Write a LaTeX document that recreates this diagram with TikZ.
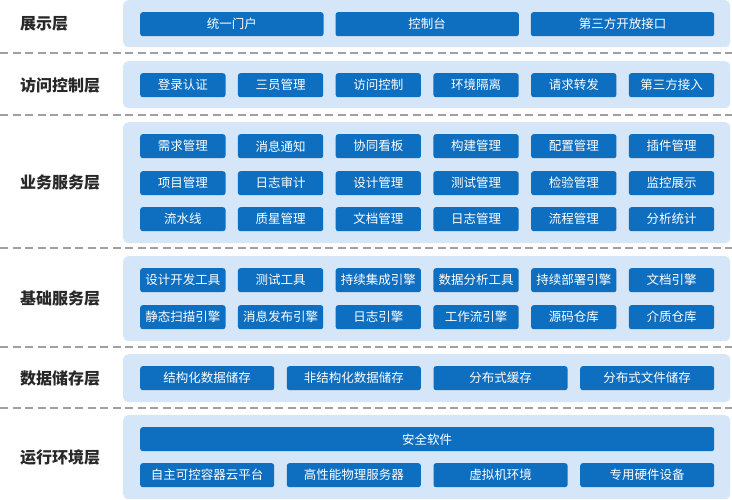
\documentclass[tikz,border=0pt]{standalone}
\usepackage{fontspec}
\setmainfont{Noto Sans CJK SC}
\definecolor{panelc}{RGB}{212,230,248}
\definecolor{boxc}{RGB}{14,110,192}
\definecolor{sepc}{RGB}{160,160,160}
\definecolor{labc}{RGB}{40,40,40}
\tikzset{
  panel/.style={fill=panelc, rounded corners=5pt, inner sep=0pt, anchor=north west, minimum width=607pt},
  blk/.style={fill=boxc, rounded corners=2.5pt, text=white, font=\fontsize{12.5}{14}\selectfont, inner sep=0pt, anchor=north west, minimum height=24pt},
  lbl/.style={font=\bfseries\fontsize{16}{18}\selectfont, anchor=west, text=labc, inner sep=0pt},
  sepline/.style={draw=sepc, line width=1.4pt, dash pattern=on 8pt off 4.5pt}
}
\newcommand\sixrow[2]{%
  \foreach \t [count=\i from 0] in {#2} {\node[blk, minimum width=85.3pt] (b#1-\i) at (140+\i*97.74,#1) {\t};}}
\newcommand\fourrow[2]{%
  \foreach \t [count=\i from 0] in {#2} {\node[blk, minimum width=134pt] (b#1-\i) at (140+\i*146.67,#1) {\t};}}
\newcommand\threerow[2]{%
  \foreach \t [count=\i from 0] in {#2} {\node[blk, minimum width=183.3pt] (b#1-\i) at (140+\i*195.35,#1) {\t};}}
\begin{document}
\begin{tikzpicture}[x=1pt,y=-1pt]
\useasboundingbox (0,0) rectangle (732,500);
% panels
\node[panel, minimum height=47pt] (p1) at (123,0) {};
\node[panel, minimum height=47pt] (p2) at (123,61) {};
\node[panel, minimum height=121pt] (p3) at (123,122) {};
\node[panel, minimum height=85pt] (p4) at (123,256) {};
\node[panel, minimum height=48pt] (p5) at (123,354) {};
\node[panel, minimum height=84pt] (p6) at (123,415) {};
% separators
\foreach \y [count=\k] in {53,115,248,347,408} {
  \coordinate (sl\k) at (0,\y);
  \coordinate (sr\k) at (732,\y);
  \draw[sepline] (sl\k) -- (sr\k);
}
% labels
\node[lbl] (l1) at (20,24) {展示层};
\node[lbl] (l2) at (20,85) {访问控制层};
\node[lbl] (l3) at (20,183) {业务服务层};
\node[lbl] (l4) at (20,299) {基础服务层};
\node[lbl] (l5) at (20,378) {数据储存层};
\node[lbl] (l6) at (20,457) {运行环境层};
% boxes
\threerow{12}{统一门户,控制台,第三方开放接口}
\sixrow{73}{登录认证,三员管理,访问控制,环境隔离,请求转发,第三方接入}
\sixrow{134}{需求管理,消息通知,协同看板,构建管理,配置管理,插件管理}
\sixrow{171}{项目管理,日志审计,设计管理,测试管理,检验管理,监控展示}
\sixrow{207}{流水线,质星管理,文档管理,日志管理,流程管理,分析统计}
\sixrow{268}{设计开发工具,测试工具,持续集成引擎,数据分析工具,持续部署引擎,文档引擎}
\sixrow{305}{静态扫描引擎,消息发布引擎,日志引擎,工作流引擎,源码仓库,介质仓库}
\fourrow{366}{结构化数据储存,非结构化数据储存,分布式缓存,分布式文件储存}
\node[blk, minimum width=574pt] (sec) at (140,427) {安全软件};
\fourrow{463}{自主可控容器云平台,高性能物理服务器,虚拟机环境,专用硬件设备}
\end{tikzpicture}
\end{document}
